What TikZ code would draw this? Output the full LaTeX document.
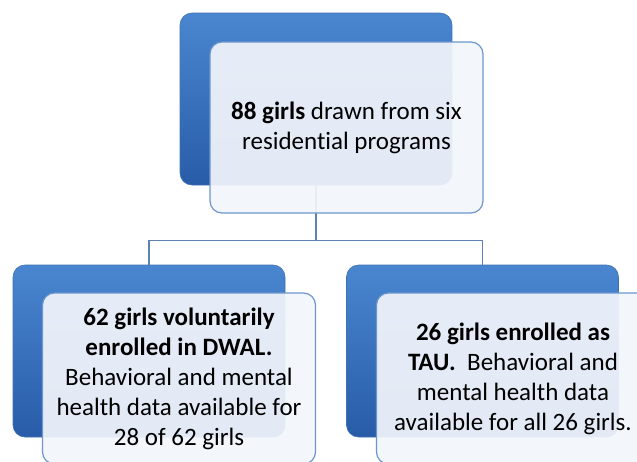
\documentclass[tikz,border=0pt]{standalone}
\usepackage{fontspec}
\setmainfont{Carlito}[RawFeature={-liga;-clig;-calt}]
\usepackage{xcolor}
\usetikzlibrary{positioning}

\definecolor{backblue}{RGB}{74,134,208}
\definecolor{backdark}{RGB}{40,92,168}
\definecolor{edgeblue}{RGB}{108,150,204}
\definecolor{paleblue}{RGB}{242,245,251}
\definecolor{linkblue}{RGB}{95,128,178}

\tikzset{
    backbox/.style={rectangle, rounded corners=12pt, minimum width=272pt, minimum height=172pt,
        top color=backblue, bottom color=backdark, draw=backblue!85!black, line width=0.6pt},
    frontbox/.style={rectangle, rounded corners=12pt, minimum width=273pt, minimum height=171pt,
        fill=paleblue, fill opacity=0.93, text opacity=1, draw=edgeblue, line width=1.2pt,
        align=center, font=\fontsize{25}{30}\selectfont},
    link/.style={draw=linkblue, line width=1.1pt}
}

\begin{document}
\begin{tikzpicture}[x=1pt, y=1pt]
        \useasboundingbox (0,0) rectangle (637,-461);
        \clip (0,0) rectangle (637,-461);

        % Draw the back boxes
        \node[backbox] (topback) at (316,-99) {};
        \node[backbox] (leftback) at (149,-351) {};
        \node[backbox] (rightback) at (482.5,-351) {};

        % Draw the connectors
        \path (topback.south) ++(0,-55) coordinate (fork);
        \draw[link] (topback.south) -- (fork) -| (leftback.north);
        \draw[link] (fork) -| (rightback.north);

        % Draw the front boxes
        \node[frontbox] (top) at (346.5,-127.5) {\textbf{88 girls} drawn from six\\residential programs};
        \node[frontbox] (left) at (179,-378.5) {\textbf{62 girls voluntarily}\\\textbf{enrolled in DWAL.}\\Behavioral and mental\\health data available for\\28 of 62 girls};
        \node[frontbox] (right) at (513,-378.5) {\textbf{26 girls enrolled as}\\\textbf{TAU.}\ \ Behavioral and\\mental health data\\available for all 26 girls.};
    \end{tikzpicture}
\end{document}
